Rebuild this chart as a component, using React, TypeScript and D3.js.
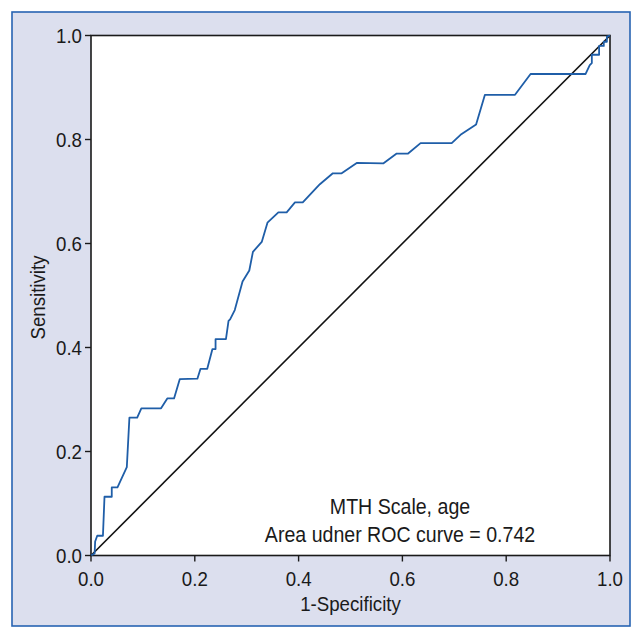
import React from "react";
import * as d3 from "d3";

// ROC curve points (1-Specificity, Sensitivity)
const fpr = [0, 0.007, 0.008, 0.012, 0.023, 0.026, 0.04, 0.04, 0.051, 0.069, 0.074, 0.089, 0.097, 0.135, 0.147, 0.16, 0.171, 0.205, 0.211, 0.224, 0.234, 0.24, 0.24, 0.26, 0.265, 0.268, 0.277, 0.292, 0.305, 0.312, 0.329, 0.34, 0.361, 0.377, 0.393, 0.408, 0.441, 0.466, 0.483, 0.512, 0.563, 0.589, 0.611, 0.635, 0.695, 0.712, 0.742, 0.759, 0.817, 0.847, 0.953, 0.961, 0.965, 0.965, 0.979, 0.979, 0.988, 0.988, 0.994, 0.994, 1];
const tpr = [0, 0.004, 0.027, 0.038, 0.038, 0.113, 0.113, 0.131, 0.131, 0.17, 0.265, 0.265, 0.283, 0.283, 0.302, 0.302, 0.339, 0.34, 0.359, 0.359, 0.397, 0.397, 0.416, 0.416, 0.451, 0.454, 0.472, 0.527, 0.548, 0.584, 0.603, 0.64, 0.66, 0.66, 0.679, 0.679, 0.714, 0.735, 0.735, 0.755, 0.754, 0.773, 0.773, 0.793, 0.793, 0.809, 0.829, 0.886, 0.886, 0.926, 0.926, 0.943, 0.947, 0.963, 0.963, 0.98, 0.98, 0.988, 0.988, 0.998, 1];
const ticks = [0, 0.2, 0.4, 0.6, 0.8, 1.0];
const tickLabels = ["0.0", "0.2", "0.4", "0.6", "0.8", "1.0"];
const refLine = [0, 1];
const annotation = ["MTH Scale, age", "Area udner ROC curve = 0.742"];
const xTitle = "1-Specificity";
const yTitle = "Sensitivity";

const W = 643;
const H = 639;
const left = 91;
const right = 610;
const top = 35.5;
const bottom = 555.5;

const FONT = "'Liberation Sans', Arial, sans-serif";
const SQ = 0.89;

function Label({ x, y, rotate = 0, anchor = "middle", size = 21, children }: any) {
  return (
    <g transform={`translate(${x},${y}) rotate(${rotate}) scale(${SQ},1)`}>
      <text x={0} y={0} textAnchor={anchor} fontFamily={FONT} fontSize={size} fill="#1a1a1a">
        {children}
      </text>
    </g>
  );
}

export default function App() {
  const x = d3.scaleLinear().domain([0, 1]).range([left, right]);
  const y = d3.scaleLinear().domain([0, 1]).range([bottom, top]);
  const pts: [number, number][] = fpr.map((v, i) => [v, tpr[i]]);
  const line = d3
    .line<[number, number]>()
    .x((d) => x(d[0]))
    .y((d) => y(d[1]));
  const diag = d3
    .line<number>()
    .x((d) => x(d))
    .y((d) => y(d));

  return (
    <svg
      width={W}
      height={H}
      style={{ position: "absolute", left: 0, top: 0, display: "block" }}
    >
      <rect x={0} y={0} width={W} height={H} fill="#ffffff" />
      <rect
        x={12}
        y={12}
        width={618}
        height={614}
        fill="#dcdfee"
        stroke="#2763b2"
        strokeWidth={1.6}
      />
      <rect
        x={left}
        y={top}
        width={right - left}
        height={bottom - top}
        fill="#ffffff"
        stroke="#1a1a1a"
        strokeWidth={1.6}
      />
      <path d={diag(refLine) || ""} fill="none" stroke="#111" strokeWidth={1.6} />
      <path d={line(pts) || ""} fill="none" stroke="#1f5ea8" strokeWidth={1.8} strokeLinejoin="round" />
      {ticks.map((t, i) => (
        <g key={"xt" + i}>
          <line x1={x(t)} x2={x(t)} y1={bottom} y2={bottom + 6} stroke="#1a1a1a" strokeWidth={1.4} />
          <Label x={x(t)} y={bottom + 30}>{tickLabels[i]}</Label>
        </g>
      ))}
      {ticks.map((t, i) => (
        <g key={"yt" + i}>
          <line x1={left - 6} x2={left} y1={y(t)} y2={y(t)} stroke="#1a1a1a" strokeWidth={1.4} />
          <Label x={left - 9} y={y(t) + 7.5} anchor="end">{tickLabels[i]}</Label>
        </g>
      ))}
      <Label x={(left + right) / 2} y={611}>{xTitle}</Label>
      <Label x={45} y={(top + bottom) / 2 + 2} rotate={-90}>{yTitle}</Label>
      {annotation.map((s, i) => (
        <Label key={"an" + i} x={400} y={514 + i * 27.5} size={22}>{s}</Label>
      ))}
    </svg>
  );
}
